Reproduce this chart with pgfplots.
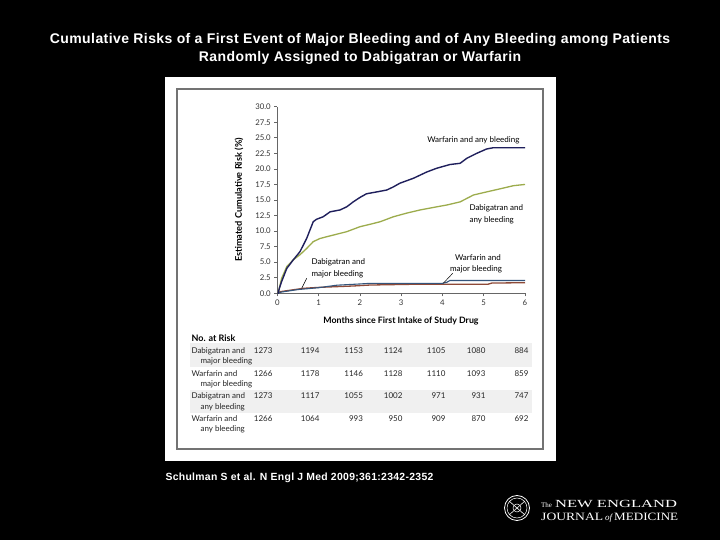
\documentclass[border=0pt]{standalone}
\usepackage{pgfplots}
\pgfplotsset{compat=1.18}
\usepackage{fontspec}
\setmainfont{Liberation Sans}
\newfontfamily\titlefont[LetterSpace=3]{Liberation Sans}
\newfontfamily\figfont{Lato}
\newfontfamily\nejmfont{Liberation Serif}
\definecolor{warany}{HTML}{1F1F5C}
\definecolor{dabany}{HTML}{9CAC4C}
\definecolor{warmaj}{HTML}{34557C}
\definecolor{dabmaj}{HTML}{8E4A38}
\definecolor{band}{HTML}{F0F0F0}
\begin{document}
\begin{tikzpicture}[x=1pt,y=1pt]
\fill[black] (0,0) rectangle (720,540);
\useasboundingbox (0,0) rectangle (720,540);
% title
\node[white,font=\titlefont\bfseries\fontsize{14}{16}\selectfont] at (360,500) {Cumulative Risks of a First Event of Major Bleeding and of Any Bleeding among Patients};
\node[white,font=\titlefont\bfseries\fontsize{14}{16}\selectfont] at (360,482) {Randomly Assigned to Dabigatran or Warfarin};
% panel
\fill[white] (165,79) rectangle (556,463);
\draw[black!55, line width=1.3pt] (177,91) rectangle (543,451);
\fill[band] (190,173.3) rectangle (531.7,196.7);
\fill[band] (190,126.7) rectangle (531.7,150);
\begin{axis}[
  at={(277.3pt,246.7pt)}, anchor=south west,
  width=247.7pt, height=186.6pt, scale only axis,
  xmin=0, xmax=6, ymin=0, ymax=30,
  axis x line*=bottom, axis y line*=left,
  xtick={0,1,2,3,4,5,6}, ytick={0,2.5,...,30},
  tick align=outside, major tick length=3pt,
  axis line style={black!60, line width=0.6pt},
  every tick/.style={black!60, line width=0.6pt},
  tick label style={font=\figfont\fontsize{7.8}{8}\selectfont, text=black!80},
  /pgf/number format/assume math mode=true,
  yticklabel style={/pgf/number format/.cd, fixed, fixed zerofill, precision=1},
  xticklabel style={/pgf/number format/.cd, fixed, precision=0},
]
\addplot[dabmaj, line width=1.3pt] coordinates {(0,0) (0.07,0.26) (0.63,0.8) (1.03,0.96) (1.83,1.17) (2.25,1.33) (3.21,1.44) (5.1,1.45) (5.2,1.65) (6,1.7)};
\addplot[warmaj, line width=1.1pt] coordinates {(0,0) (0.1,0.2) (0.5,0.6) (1.0,0.9) (1.44,1.3) (2.0,1.5) (2.25,1.6) (4.0,1.6) (4.1,1.75) (4.18,2.05) (6.0,2.05)};
\addplot[dabany, line width=1.3pt] coordinates {(0,0) (0.02,0) (0.105,2.4) (0.23,4.3) (0.39,5.4) (0.55,6.2) (0.71,7.2) (0.87,8.3) (1.03,8.8) (1.2,9.1) (1.44,9.5) (1.68,9.9) (2.0,10.7) (2.25,11.1) (2.49,11.5) (2.81,12.3) (3.14,12.9) (3.46,13.4) (3.78,13.8) (4.11,14.2) (4.43,14.7) (4.75,15.8) (5.07,16.3) (5.40,16.8) (5.72,17.3) (6.0,17.5)};
\addplot[warany, line width=1.4pt] coordinates {(0,0) (0.02,0) (0.05,0.8) (0.105,1.9) (0.23,4.0) (0.39,5.4) (0.55,6.7) (0.71,8.8) (0.87,11.5) (0.95,11.9) (1.11,12.3) (1.28,13.1) (1.52,13.4) (1.68,13.9) (1.84,14.7) (2.0,15.4) (2.16,16.0) (2.41,16.3) (2.65,16.6) (2.81,17.1) (2.97,17.7) (3.30,18.5) (3.62,19.5) (3.86,20.1) (4.18,20.7) (4.43,20.9) (4.59,21.7) (4.83,22.5) (5.07,23.2) (5.23,23.4) (6.0,23.4)};
\end{axis}
% axis labels
\node[rotate=90, font=\figfont\bfseries\fontsize{9.2}{10}\selectfont] at (239,340) {Estimated Cumulative Risk (\%)};
\node[font=\figfont\bfseries\fontsize{8.8}{10}\selectfont] at (401,219) {Months since First Intake of Study Drug};
% curve labels
\begin{scope}[font=\figfont\fontsize{8}{9}\selectfont]
\node[anchor=east] at (523,399.3) {Warfarin and any bleeding};
\node[anchor=west] at (466,331.7) {Dabigatran and};
\node[anchor=west] at (466,320) {any bleeding};
\node at (478,282) {Warfarin and};
\node at (476,271) {major bleeding};
\node[anchor=west] at (308,277.3) {Dabigatran and};
\node[anchor=west] at (308,265.7) {major bleeding};
\end{scope}
\draw[black, line width=0.5pt] (443.3,256.7) -- (452.7,266.7);
\draw[black, line width=0.5pt] (306.7,261.7) -- (301.7,251.7);
% number at risk
\node[anchor=west, font=\figfont\bfseries\fontsize{9}{10}\selectfont] at (188,201.7) {No. at Risk};
\begin{scope}[font=\figfont\fontsize{8}{9}\selectfont, text=black!85]
\node[anchor=west] at (188,189) {Dabigatran and};
\node[anchor=west] at (197,178.3) {major bleeding};
\node[anchor=west] at (188,166.7) {Warfarin and};
\node[anchor=west] at (197,156) {major bleeding};
\node[anchor=west] at (188,144) {Dabigatran and};
\node[anchor=west] at (197,132.3) {any bleeding};
\node[anchor=west] at (188,121.7) {Warfarin and};
\node[anchor=west] at (197,110.7) {any bleeding};
\foreach \xx/\a/\b/\c/\d in {276/1273/1266/1273/1266, 323/1194/1178/1117/1064, 366.5/1153/1146/1055/993, 406/1124/1128/1002/950, 449/1105/1110/971/909, 489/1080/1093/931/870, 532/884/859/747/692}{
  \node[anchor=east] at (\xx,189) {\a};
  \node[anchor=east] at (\xx,166.7) {\b};
  \node[anchor=east] at (\xx,144) {\c};
  \node[anchor=east] at (\xx,121.7) {\d};
}
\end{scope}
% citation
\node[anchor=west, white, font=\titlefont\bfseries\fontsize{10.4}{12}\selectfont] at (162,62) {Schulman S et al. N Engl J Med 2009;361:2342-2352};
% NEJM logo
\draw[white, line width=0.8pt] (517,32) circle (12.5);
\draw[white, line width=0.5pt] (517,32) circle (10);
\draw[white, line width=0.6pt] (509,25) -- (525,39) (509,39) -- (525,25);
\draw[white, line width=0.5pt] (517,32) circle (4);
\node[anchor=base west, white, inner sep=0pt] at (541,32.5) {\nejmfont\fontsize{7}{7}\selectfont The\hspace{3pt}\resizebox{122pt}{7.2pt}{NEW ENGLAND}};
\node[anchor=base west, white, inner sep=0pt] at (541,19.5) {\nejmfont\resizebox{62pt}{7.4pt}{JOURNAL}\hspace{2pt}{\itshape\fontsize{9}{9}\selectfont of}\hspace{2pt}\resizebox{64pt}{7.4pt}{MEDICINE}};
\end{tikzpicture}
\end{document}
